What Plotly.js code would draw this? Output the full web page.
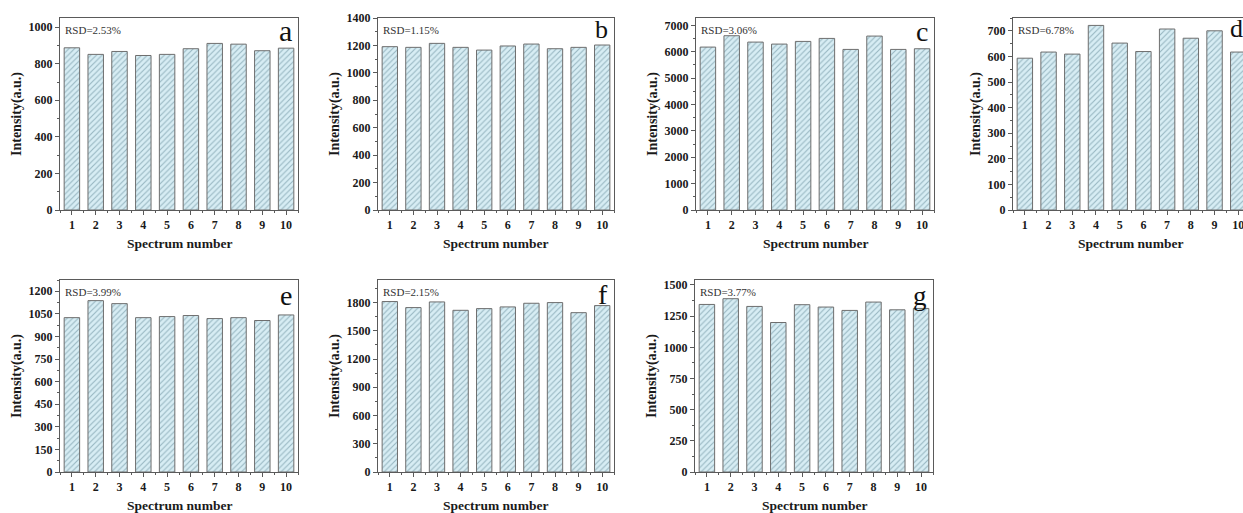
<!DOCTYPE html>
<html>
<head>
<meta charset="utf-8">
<script src="https://cdn.plot.ly/plotly-3.0.1.min.js"></script>
<style>
  html, body { margin: 0; padding: 0; background: #fff; }
  #chart { width: 1243px; height: 513px; }
</style>
</head>
<body>
<div id="chart"></div>
<script>
// ---- data ----
const spectrumNumbers = [1, 2, 3, 4, 5, 6, 7, 8, 9, 10];
const valuesA = [887, 851, 867, 845, 851, 882, 911, 907, 871, 885];
const valuesB = [1191, 1186, 1215, 1186, 1166, 1196, 1210, 1176, 1186, 1203];
const valuesC = [6177, 6608, 6367, 6291, 6392, 6506, 6089, 6595, 6089, 6114];
const valuesD = [593, 617, 609, 721, 652, 619, 707, 671, 700, 617];
const valuesE = [1025, 1138, 1118, 1025, 1032, 1039, 1019, 1025, 1006, 1043];
const valuesF = [1811, 1747, 1807, 1718, 1736, 1754, 1793, 1800, 1693, 1768];
const valuesG = [1344, 1390, 1328, 1199, 1342, 1323, 1296, 1363, 1301, 1312];
const rsdLabels = ['RSD=2.53%', 'RSD=1.15%', 'RSD=3.06%', 'RSD=6.78%', 'RSD=3.99%', 'RSD=2.15%', 'RSD=3.77%'];
const panelLetters = ['a', 'b', 'c', 'd', 'e', 'f', 'g'];
const xTitle = 'Spectrum number';
const yTitle = 'Intensity(a.u.)';

// ---- layout config ----
const allValues = [valuesA, valuesB, valuesC, valuesD, valuesE, valuesF, valuesG];
const yTop = [1050, 1400, 7280, 750, 1275, 2040, 1540];
const yStep = [200, 200, 1000, 100, 150, 300, 250];
const W = 1243, H = 513;
const px = (a, b) => [a / W, Math.min(b / W, 1)];
const py = (top, bottom) => [1 - bottom / H, 1 - top / H];
const xDomains = [px(60, 298), px(378, 614), px(696, 934), px(1013, 1243), px(60, 298), px(378, 614), px(695, 933)];
const yDomains = [py(18, 210), py(18, 210), py(18, 210), py(18, 210), py(280, 472), py(280, 472), py(280, 472)];
const xRanges = [[0.5, 10.5], [0.5, 10.5], [0.5, 10.5], [0.5, 10.2], [0.5, 10.5], [0.5, 10.5], [0.5, 10.5]];
const letterSizes = [30, 26, 28, 26, 28, 28, 27];
const letterYShift = [6, 5, 4, 6, 2, 3, 1];

const serif = '"Liberation Serif", "Times New Roman", serif';
const axisColor = '#5a5a5a';

const traces = [];
const layout = {
  width: W, height: H,
  margin: {l: 0, r: 0, t: 0, b: 0},
  paper_bgcolor: '#ffffff',
  plot_bgcolor: '#ffffff',
  showlegend: false,
  annotations: [],
  font: {family: serif, color: '#1a1a1a'}
};

allValues.forEach((vals, i) => {
  const n = i + 1;
  const xa = n === 1 ? 'x' : 'x' + n;
  const ya = n === 1 ? 'y' : 'y' + n;
  traces.push({
    type: 'bar',
    x: spectrumNumbers,
    y: vals,
    xaxis: xa, yaxis: ya,
    width: 0.65,
    marker: {
      color: '#d7edf4',
      line: {color: '#6e6e6e', width: 1},
      pattern: {shape: '/', bgcolor: '#d7edf4', fgcolor: '#98b7c2', size: 4, solidity: 0.28}
    },
    hoverinfo: 'x+y'
  });
  const xKey = n === 1 ? 'xaxis' : 'xaxis' + n;
  const yKey = n === 1 ? 'yaxis' : 'yaxis' + n;
  layout[xKey] = {
    domain: xDomains[i],
    anchor: ya,
    range: xRanges[i],
    tickmode: 'array',
    tickvals: spectrumNumbers,
    ticktext: spectrumNumbers.map(String),
    ticks: 'outside', ticklen: 4, tickwidth: 1, tickcolor: axisColor,
    minor: {ticks: 'outside', ticklen: 2, tickcolor: axisColor, dtick: 0.5, tick0: 0.5, showgrid: false},
    showline: true, linecolor: axisColor, linewidth: 1, mirror: true,
    showgrid: false, zeroline: false,
    ticklabeloverflow: 'allow',
    tickfont: {family: serif, size: 12, color: '#1a1a1a', weight: 'bold'},
    fixedrange: true
  };
  layout[yKey] = {
    domain: yDomains[i],
    anchor: xa,
    range: [0, yTop[i]],
    tick0: 0, dtick: yStep[i],
    ticks: 'outside', ticklen: 4, tickwidth: 1, tickcolor: axisColor,
    minor: {ticks: 'outside', ticklen: 2, tickcolor: axisColor, dtick: yStep[i] / 2, showgrid: false},
    showline: true, linecolor: axisColor, linewidth: 1, mirror: n !== 4,
    showgrid: false, zeroline: false,
    tickfont: {family: serif, size: 12, color: '#1a1a1a', weight: 'bold'},
    fixedrange: true
  };
  // RSD label
  layout.annotations.push({
    xref: xa + ' domain', yref: ya + ' domain',
    x: 0, y: 1, xshift: 3, yshift: -4,
    xanchor: 'left', yanchor: 'top',
    text: rsdLabels[i], showarrow: false,
    font: {family: serif, size: 11, color: '#333333'}
  });
  // panel letter
  layout.annotations.push({
    xref: xa + ' domain', yref: ya + ' domain',
    x: 1, y: 1, xshift: n === 4 ? 2 : -4, yshift: letterYShift[i],
    xanchor: 'right', yanchor: 'top',
    text: panelLetters[i], showarrow: false,
    font: {family: serif, size: letterSizes[i], color: '#111111'}
  });
  // axis titles
  layout.annotations.push({
    xref: xa + ' domain', yref: ya + ' domain',
    x: 0, y: 0.5, xshift: n === 4 ? -37 : -43,
    xanchor: 'center', yanchor: 'middle', textangle: -90,
    text: yTitle, showarrow: false,
    font: {family: serif, size: 14, color: '#1a1a1a', weight: 'bold'}
  });
  layout.annotations.push({
    xref: xa + ' domain', yref: ya + ' domain',
    x: n === 4 ? 0.513 : 0.5, y: 0, yshift: -33,
    xanchor: 'center', yanchor: 'middle',
    text: xTitle, showarrow: false,
    font: {family: serif, size: 13.5, color: '#1a1a1a', weight: 'bold'}
  });
});

Plotly.newPlot('chart', traces, layout, {displayModeBar: false, staticPlot: true});
</script>
</body>
</html>
